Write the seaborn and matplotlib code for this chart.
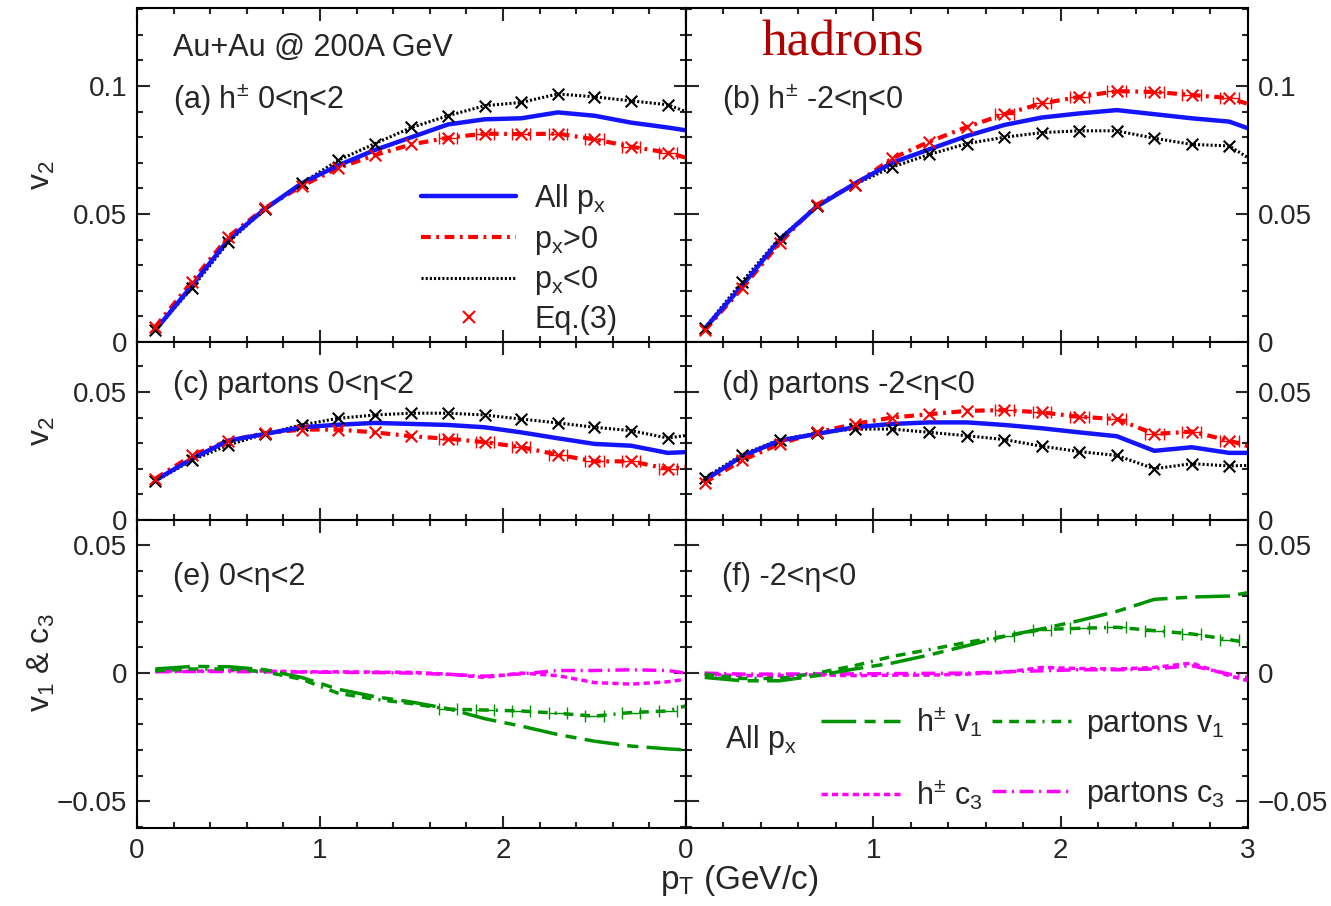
import numpy as np
import matplotlib
matplotlib.use("Agg")
import matplotlib.pyplot as plt
import seaborn as sns
from matplotlib.lines import Line2D

# --- data ---
pt = [0.1, 0.3, 0.5, 0.7, 0.9, 1.1, 1.3, 1.5, 1.7, 1.9, 2.1, 2.3, 2.5, 2.7, 2.9, 3.0]

# (a) hadrons 0<eta<2
a_all = [0.0046, 0.022, 0.040, 0.052, 0.062, 0.069, 0.075, 0.080, 0.085, 0.087, 0.0874, 0.0897, 0.0884, 0.0857, 0.0838, 0.0827]
a_pos = [0.0059, 0.0236, 0.0412, 0.0524, 0.0609, 0.068, 0.073, 0.0772, 0.0798, 0.0814, 0.0812, 0.0814, 0.0792, 0.0763, 0.074, 0.072]
a_neg = [0.0046, 0.021, 0.039, 0.052, 0.062, 0.071, 0.0775, 0.0838, 0.0884, 0.0923, 0.0936, 0.0969, 0.0958, 0.0942, 0.0927, 0.090]

# (b) hadrons -2<eta<0
b_all = [0.0052, 0.022, 0.040, 0.053, 0.0618, 0.070, 0.0753, 0.0805, 0.0848, 0.0877, 0.0893, 0.0906, 0.089, 0.0874, 0.0861, 0.0835]
b_pos = [0.0046, 0.021, 0.0386, 0.0537, 0.0615, 0.0717, 0.0783, 0.084, 0.089, 0.0932, 0.0958, 0.098, 0.0977, 0.0965, 0.0953, 0.093]
b_neg = [0.0055, 0.0236, 0.0406, 0.053, 0.0615, 0.0683, 0.0733, 0.0775, 0.080, 0.0818, 0.0825, 0.0825, 0.0796, 0.0772, 0.0766, 0.072]

# (c) partons 0<eta<2
c_all = [0.0155, 0.0239, 0.031, 0.0336, 0.0362, 0.0372, 0.0379, 0.0375, 0.0371, 0.0362, 0.0342, 0.0319, 0.0297, 0.029, 0.0262, 0.0265]
c_pos = [0.0161, 0.0252, 0.031, 0.0339, 0.0353, 0.0353, 0.0342, 0.0327, 0.0317, 0.0304, 0.0284, 0.0255, 0.0229, 0.0229, 0.020, 0.0207]
c_neg = [0.0151, 0.0233, 0.0293, 0.0336, 0.0371, 0.0397, 0.041, 0.0417, 0.0417, 0.041, 0.0394, 0.0379, 0.0362, 0.0349, 0.032, 0.033]

# (d) partons -2<eta<0
d_all = [0.0155, 0.0249, 0.031, 0.0336, 0.0362, 0.0375, 0.0381, 0.0381, 0.0371, 0.0358, 0.0342, 0.0327, 0.027, 0.0284, 0.0262, 0.0262]
d_pos = [0.0146, 0.0233, 0.0297, 0.0342, 0.0375, 0.040, 0.0413, 0.0426, 0.0429, 0.042, 0.0403, 0.0394, 0.0336, 0.0345, 0.031, 0.0288]
d_neg = [0.0164, 0.0255, 0.0314, 0.0339, 0.0355, 0.0355, 0.0342, 0.0329, 0.0314, 0.0288, 0.0267, 0.0252, 0.020, 0.022, 0.0211, 0.0213]

# (e) v1 and c3, 0<eta<2
e_hv1 = [0.0016, 0.0026, 0.0025, 0.0013, -0.0017, -0.0063, -0.0092, -0.0113, -0.0139, -0.0178, -0.0207, -0.024, -0.0266, -0.0285, -0.0296, -0.030]
e_pv1 = [0.0009, 0.0016, 0.0016, 0.0005, -0.0024, -0.0079, -0.0102, -0.0119, -0.0141, -0.0144, -0.0148, -0.0157, -0.0168, -0.0154, -0.0148, -0.0128]
e_hc3 = [0.0009, 0.0007, 0.001, 0.0008, 0.0005, 0.0005, 0.0004, 0.0003, -0.0004, -0.0017, 0.0, -0.001, -0.0037, -0.0043, -0.0034, -0.0024]
e_pc3 = [0.0005, 0.0006, 0.0006, 0.0005, 0.0004, 0.0003, 0.0002, 0.0, -0.0005, -0.0012, -0.0003, 0.001, 0.001, 0.0013, 0.001, 0.0]

# (f) v1 and c3, -2<eta<0
f_hv1 = [-0.0017, -0.003, -0.003, -0.001, 0.0016, 0.0039, 0.0071, 0.0107, 0.0144, 0.0173, 0.0205, 0.0241, 0.0288, 0.0297, 0.0301, 0.0314]
f_pv1 = [-0.0004, -0.0021, -0.0021, 0.0, 0.0029, 0.0065, 0.0092, 0.012, 0.0144, 0.017, 0.0175, 0.0179, 0.0166, 0.0153, 0.0131, 0.0118]
f_hc3 = [-0.0004, -0.001, -0.001, -0.0007, -0.001, -0.0008, -0.0008, -0.0004, 0.0003, 0.0022, 0.0018, 0.0016, 0.0022, 0.0039, -0.001, -0.003]
f_pc3 = [0.0, -0.0004, -0.0004, -0.0003, -0.0003, -0.0002, -0.0001, 0.0, 0.0005, 0.0009, 0.0013, 0.0013, 0.0016, 0.0029, -0.0004, -0.0017]

# first point index (pT >= 1.7) from which bin-width error bars are drawn
ERR_FROM = 8
BIN_HALF = 0.05

# --- style ---
sns.set_theme(style="ticks")
plt.rcParams['font.family'] = ['Liberation Sans', 'DejaVu Sans']
plt.rcParams['mathtext.fontset'] = 'custom'
plt.rcParams['mathtext.rm'] = 'Liberation Sans'
plt.rcParams['mathtext.it'] = 'Liberation Sans:italic'
plt.rcParams['lines.scale_dashes'] = False
plt.rcParams['axes.linewidth'] = 1.5
plt.rcParams['axes.edgecolor'] = 'black'

BLUE = '#1414ff'
RED = '#ff0000'
GREEN = '#009300'
MAGENTA = '#ff00ff'

DASHDOT = (0, (7, 4, 2, 4))
DOTTED = (0, (1.5, 1.5))
LONGDASH = (0, (25, 6, 8, 6))
PV1 = (0, (7, 5, 7, 5, 7, 5, 1.5, 5))
SHORTDASH = (0, (4.5, 3))
PC3 = (0, (10, 4, 1.5, 4))

FS = 20
TFS = 22

fig = plt.figure(figsize=(13.31, 9.06), dpi=100)
gs = fig.add_gridspec(3, 2, left=0.1029, right=0.9376, top=0.9912, bottom=0.0861,
                      hspace=0, wspace=0, width_ratios=[549, 562],
                      height_ratios=[334, 178, 308])
axes = [[fig.add_subplot(gs[r, c]) for c in range(2)] for r in range(3)]


def bin_errors(ax, y, color):
    ax.errorbar(pt[ERR_FROM:-1], y[ERR_FROM:-1], xerr=BIN_HALF, fmt='none',
                ecolor=color, elinewidth=1, capsize=4, capthick=1, zorder=3)


def draw_v2(ax, all_, pos, neg):
    sns.lineplot(x=pt, y=neg, ax=ax, color='black', lw=2.2, linestyle=DOTTED, errorbar=None)
    sns.lineplot(x=pt, y=pos, ax=ax, color=RED, lw=3, linestyle=DASHDOT, errorbar=None)
    bin_errors(ax, pos, RED)
    sns.lineplot(x=pt, y=all_, ax=ax, color=BLUE, lw=3.2, errorbar=None)
    sns.scatterplot(x=pt[:-1], y=neg[:-1], ax=ax, marker='x', color='black', s=70, linewidth=1.5, zorder=5)
    sns.scatterplot(x=pt[:-1], y=pos[:-1], ax=ax, marker='x', color=RED, s=70, linewidth=1.5, zorder=5)


def draw_v1(ax, hv1, pv1, hc3, pc3):
    sns.lineplot(x=pt, y=hc3, ax=ax, color=MAGENTA, lw=2.5, linestyle=SHORTDASH, errorbar=None)
    sns.lineplot(x=pt, y=pc3, ax=ax, color=MAGENTA, lw=2.5, linestyle=PC3, errorbar=None)
    sns.lineplot(x=pt, y=pv1, ax=ax, color=GREEN, lw=2.5, linestyle=PV1, errorbar=None)
    bin_errors(ax, pv1, GREEN)
    sns.lineplot(x=pt, y=hv1, ax=ax, color=GREEN, lw=2.5, linestyle=LONGDASH, errorbar=None)


draw_v2(axes[0][0], a_all, a_pos, a_neg)
draw_v2(axes[0][1], b_all, b_pos, b_neg)
draw_v2(axes[1][0], c_all, c_pos, c_neg)
draw_v2(axes[1][1], d_all, d_pos, d_neg)
draw_v1(axes[2][0], e_hv1, e_pv1, e_hc3, e_pc3)
draw_v1(axes[2][1], f_hv1, f_pv1, f_hc3, f_pc3)

ylims = [(0, 0.1305), (0, 0.0695), (-0.0605, 0.0598)]
yticks = [([0, 0.05, 0.1], ['0', '0.05', '0.1']),
          ([0, 0.05], ['0', '0.05']),
          ([-0.05, 0, 0.05], ['\u22120.05', '0', '0.05'])]

for r in range(3):
    for c in range(2):
        ax = axes[r][c]
        ax.set_yticks(*yticks[r])
        ax.set_yticks(np.arange(-0.06, 0.131, 0.01), minor=True)
        if r == 2:
            if c == 0:
                ax.set_xticks([0, 1, 2, 3], ['0', '1', '2', ''])
            else:
                ax.set_xticks([0, 1, 2, 3], ['0', '1', '2', '3'])
        else:
            ax.set_xticks([0, 1, 2, 3], ['', '', '', ''])
        ax.set_xticks(np.arange(0, 3.01, 0.2), minor=True)
        ax.set_xlim(0, 3)
        ax.set_ylim(*ylims[r])
        ax.tick_params(which='both', direction='in', top=True, right=True, left=True,
                       bottom=True, width=1.5, labelsize=FS, pad=7)
        ax.tick_params(which='major', length=9)
        ax.tick_params(which='minor', length=4.5)
        if c == 1:
            ax.tick_params(labelleft=False, labelright=True)
        ax.set_xlabel('')
        ax.set_ylabel('')

# y labels
axes[0][0].set_ylabel('v$_{\\mathrm{2}}$', fontsize=23)
axes[1][0].set_ylabel('v$_{\\mathrm{2}}$', fontsize=23)
axes[2][0].set_ylabel('v$_{\\mathrm{1}}$ & c$_{\\mathrm{3}}$', fontsize=23)
axes[0][0].yaxis.set_label_coords(-0.146, 0.5)
axes[1][0].yaxis.set_label_coords(-0.146, 0.5)
axes[2][0].yaxis.set_label_coords(-0.146, 0.535)

fig.text(660 / 1331, 1 - 880 / 906, 'p$_{\\mathrm{T}}$ (GeV/c)', fontsize=24, ha='left', va='center')

# panel texts
axes[0][0].text(0.066, 0.88, 'Au+Au @ 200A GeV', transform=axes[0][0].transAxes, fontsize=TFS, va='center')
axes[0][0].text(0.066, 0.725, '(a) h$^{\\mathrm{\u00b1}}$ 0<\u03b7<2', transform=axes[0][0].transAxes, fontsize=TFS, va='center')
axes[0][1].text(0.064, 0.725, '(b) h$^{\\mathrm{\u00b1}}$ -2<\u03b7<0', transform=axes[0][1].transAxes, fontsize=TFS, va='center')
axes[0][1].text(0.135, 0.895, 'hadrons', transform=axes[0][1].transAxes, fontsize=37,
                family='Liberation Serif', color='#b00000', va='center')
axes[1][0].text(0.066, 0.76, '(c) partons 0<\u03b7<2', transform=axes[1][0].transAxes, fontsize=TFS, va='center')
axes[1][1].text(0.064, 0.76, '(d) partons -2<\u03b7<0', transform=axes[1][1].transAxes, fontsize=TFS, va='center')
axes[2][0].text(0.066, 0.815, '(e) 0<\u03b7<2', transform=axes[2][0].transAxes, fontsize=TFS, va='center')
axes[2][1].text(0.064, 0.815, '(f) -2<\u03b7<0', transform=axes[2][1].transAxes, fontsize=TFS, va='center')
axes[2][1].text(0.069, 0.285, 'All p$_{\\mathrm{x}}$', transform=axes[2][1].transAxes, fontsize=TFS, va='center')

# legend (a)
h_a = [Line2D([], [], color=BLUE, lw=3.2),
       Line2D([], [], color=RED, lw=3, linestyle=DASHDOT),
       Line2D([], [], color='black', lw=2.2, linestyle=DOTTED),
       Line2D([], [], color=RED, lw=0, marker='x', markersize=8, markeredgewidth=1.5)]
l_a = ['All p$_{\\mathrm{x}}$', 'p$_{\\mathrm{x}}$>0', 'p$_{\\mathrm{x}}$<0', 'Eq.(3)']
axes[0][0].legend(h_a, l_a, loc='upper left', bbox_to_anchor=(0.518, 0.479), frameon=False,
                  fontsize=TFS, handlelength=3.1, handletextpad=0.6, labelspacing=0.25,
                  borderpad=0, borderaxespad=0)

# legend (f)
h_f = [Line2D([], [], color=GREEN, lw=2.5, linestyle=LONGDASH),
       Line2D([], [], color=MAGENTA, lw=2.5, linestyle=SHORTDASH),
       Line2D([], [], color=GREEN, lw=2.5, linestyle=PV1),
       Line2D([], [], color=MAGENTA, lw=2.5, linestyle=PC3)]
l_f = ['h$^{\\mathrm{\u00b1}}$ v$_{\\mathrm{1}}$', 'h$^{\\mathrm{\u00b1}}$ c$_{\\mathrm{3}}$',
       'partons v$_{\\mathrm{1}}$', 'partons c$_{\\mathrm{3}}$']
axes[2][1].legend(h_f, l_f, loc='upper left', bbox_to_anchor=(0.24, 0.40), frameon=False, ncol=2,
                  fontsize=TFS, handlelength=2.6, handletextpad=0.5, labelspacing=1.25,
                  columnspacing=0.3, borderpad=0, borderaxespad=0)

fig.savefig('out.png', dpi=100)
